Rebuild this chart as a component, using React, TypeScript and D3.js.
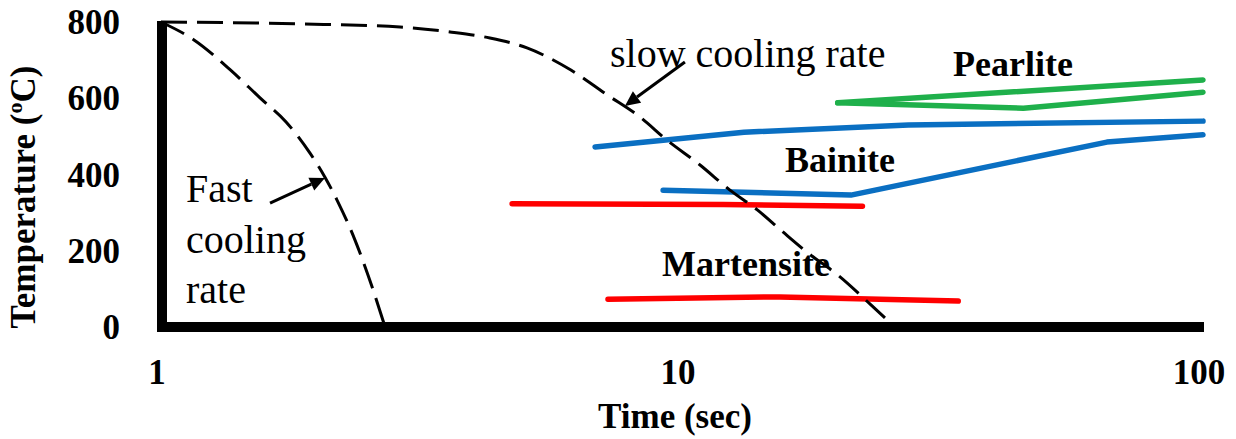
import React from "react";
import * as d3 from "d3";

const timeTicks = [1, 10, 100];
const tempTicks = [0, 200, 400, 600, 800];

const fastTime = [1, 1.157, 1.357, 1.549, 1.738, 1.932, 2.064, 2.177, 2.357, 2.497, 2.692];
const fastTemp = [800, 753, 675, 601, 538, 456, 393, 333, 228, 136, 0];

const slowTime = [1, 1.848, 2.876, 3.588, 4.278, 5.04, 6.12, 7.18, 8.3, 9.36, 10.83, 12.36, 13.93, 15.6, 17.46, 19.92, 23.05, 25.6];
const slowTemp = [800, 795, 787, 774, 758, 732, 674, 609, 551, 490, 425, 359, 308, 250, 194, 136, 58, 0];

const pearliteUpperTime = [19.9, 100];
const pearliteUpperTemp = [588, 648];
const pearliteLowerTime = [19.9, 45.2, 100];
const pearliteLowerTemp = [588, 574, 616];

const bainiteUpperTime = [6.81, 13.15, 27.2, 100];
const bainiteUpperTemp = [472, 511, 530, 540];
const bainiteLowerTime = [9.2, 21.1, 65.4, 100];
const bainiteLowerTemp = [359, 346, 485, 504];

const martStartTime = [4.72, 12.0, 22.2];
const martStartTemp = [323, 321, 317];
const martEndTime = [7.21, 15.4, 33.9];
const martEndTemp = [73, 79, 68];

// annotation arrows: [tailTime, tailTemp, tipTime, tipTemp]
const fastArrow = [1.619, 325, 2.064, 391];
const slowArrow = [10.13, 695, 7.77, 580];

const W = 1236;
const H = 439;

const x = d3.scaleLog().domain([1, 100]).range([161, 1203]);
const y = d3.scaleLinear().domain([0, 800]).range([327, 22]);

const serif = "'Liberation Serif', 'Times New Roman', serif";

function zip(t: number[], v: number[]): [number, number][] {
  return t.map((d, i) => [d, v[i]] as [number, number]);
}

const lineGen = d3
  .line<[number, number]>()
  .x((d) => x(d[0]))
  .y((d) => y(d[1]));

const smoothGen = d3
  .line<[number, number]>()
  .x((d) => x(d[0]))
  .y((d) => y(d[1]))
  .curve(d3.curveMonotoneX);

function Arrow({ a }: { a: number[] }) {
  const x1 = x(a[0]);
  const y1 = y(a[1]);
  const x2 = x(a[2]);
  const y2 = y(a[3]);
  const ang = Math.atan2(y2 - y1, x2 - x1);
  const len = 15;
  const half = 7;
  const bx = x2 - len * Math.cos(ang);
  const by = y2 - len * Math.sin(ang);
  const px = -Math.sin(ang) * half;
  const py = Math.cos(ang) * half;
  return (
    <g>
      <line x1={x1} y1={y1} x2={bx} y2={by} stroke="#000" strokeWidth={3} />
      <polygon
        points={`${x2},${y2} ${bx + px},${by + py} ${bx - px},${by - py}`}
        fill="#000"
      />
    </g>
  );
}

export default function App() {
  const colored = [
    { t: pearliteUpperTime, v: pearliteUpperTemp, c: "#1fb04b" },
    { t: pearliteLowerTime, v: pearliteLowerTemp, c: "#1fb04b" },
    { t: bainiteUpperTime, v: bainiteUpperTemp, c: "#0a6fc2" },
    { t: bainiteLowerTime, v: bainiteLowerTemp, c: "#0a6fc2" },
    { t: martStartTime, v: martStartTemp, c: "#ff0000" },
    { t: martEndTime, v: martEndTemp, c: "#ff0000" },
  ];
  return (
    <svg
      width={W}
      height={H}
      style={{ position: "absolute", left: 0, top: 0, background: "#fff" }}
      fontFamily={serif}
    >
      <rect x={0} y={0} width={W} height={H} fill="#fff" />

      {colored.map((s, i) => (
        <path
          key={i}
          d={lineGen(zip(s.t, s.v)) || ""}
          fill="none"
          stroke={s.c}
          strokeWidth={5.5}
          strokeLinecap="round"
          strokeLinejoin="round"
        />
      ))}

      <path
        d={smoothGen(zip(fastTime, fastTemp)) || ""}
        fill="none"
        stroke="#000"
        strokeWidth={3}
        strokeDasharray="26 10"
      />
      <path
        d={smoothGen(zip(slowTime, slowTemp)) || ""}
        fill="none"
        stroke="#000"
        strokeWidth={3}
        strokeDasharray="26 10"
      />

      <path
        d={`M${x(1) + 1},21 V${y(0)} H1204`}
        fill="none"
        stroke="#000"
        strokeWidth={10}
        strokeLinejoin="miter"
      />

      {tempTicks.map((v) => (
        <text
          key={v}
          x={120}
          y={y(v) + 12}
          textAnchor="end"
          fontSize={35}
          fontWeight="bold"
          fill="#000"
        >
          {v}
        </text>
      ))}

      {timeTicks.map((v) => (
        <text
          key={v}
          x={x(v) - 4}
          y={384}
          textAnchor="middle"
          fontSize={35}
          fontWeight="bold"
          fill="#000"
        >
          {v}
        </text>
      ))}

      <text x={675} y={428} textAnchor="middle" fontSize={35} fontWeight="bold">
        Time (sec)
      </text>
      <text
        transform="translate(35,197) rotate(-90)"
        textAnchor="middle"
        fontSize={35}
        fontWeight="bold"
      >
        Temperature (<tspan fontSize={22} dy={-13}>o</tspan>
        <tspan dy={13}>C)</tspan>
      </text>

      <text x={610} y={67} fontSize={40}>slow cooling rate</text>
      <text x={186} y={202} fontSize={40}>Fast</text>
      <text x={186} y={253} fontSize={40}>cooling</text>
      <text x={186} y={303} fontSize={40}>rate</text>

      <text x={953} y={76} fontSize={36} fontWeight="bold">Pearlite</text>
      <text x={785} y={172} fontSize={36} fontWeight="bold">Bainite</text>
      <text x={662} y={276} fontSize={36} fontWeight="bold">Martensite</text>

      <Arrow a={fastArrow} />
      <Arrow a={slowArrow} />
    </svg>
  );
}
